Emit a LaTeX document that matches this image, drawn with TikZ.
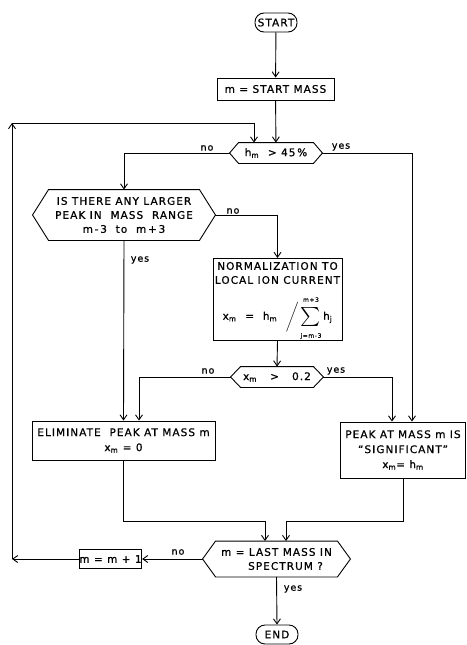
\documentclass[tikz,border=0pt]{standalone}
\usepackage{fontspec}
\usepackage{graphicx}
\setmainfont[LetterSpace=10,FakeBold=0.8]{DejaVu Sans}
\usetikzlibrary{arrows.meta,calc}
\newcommand\hexdraw[2]{\draw[line width=0.9pt] (#1.west) -- ([xshift=#2]#1.north west) -- ([xshift=-#2]#1.north east) -- (#1.east) -- ([xshift=-#2]#1.south east) -- ([xshift=#2]#1.south west) -- cycle;}
\newcommand\sub[1]{\textsubscript{#1}}
\newcommand\limtxt[1]{\fontsize{6}{6}\selectfont #1}
\newcommand\bigsum{\begin{tabular}{@{}c@{}}\limtxt{m+3}\\[1.5pt]\scalebox{1.9}{\(\sum\)}\\[1.5pt]\limtxt{j=m-3}\end{tabular}}
\begin{document}
\begin{tikzpicture}[x=1pt,y=-1pt,line width=0.9pt,
  arr/.style={-{Straight Barb[length=5pt,width=7pt]}},
  box/.style={draw,inner sep=0pt,align=center,font=\fontsize{10.5}{15}\selectfont},
  hexn/.style={inner sep=0pt,align=center,font=\fontsize{10.5}{14}\selectfont},
  term/.style={draw,rounded corners=9pt,inner sep=0pt,font=\fontsize{10.5}{11}\selectfont},
  lbl/.style={font=\fontsize{9.5}{11}\selectfont,inner sep=1pt}]
\useasboundingbox (0,0) rectangle (466,645);

\node[term,minimum width=42pt,minimum height=19pt] (start) at (276,22.5) {START};
\node[box,minimum width=117pt,minimum height=22pt] (smass) at (275.5,89) {m = START MASS};
\node[hexn,minimum width=92pt,minimum height=20pt] (h1) at (276,153) {h\sub{m} \ > 45\,\%};
\node[hexn,minimum width=182pt,minimum height=50pt] (h2) at (124,215) {IS THERE ANY LARGER\\PEAK IN \ MASS \ RANGE\\m\,-\,3 \ to \ m\,+\,3};
\node[box,minimum width=129pt,minimum height=82pt,anchor=north] (norm) at (277.5,258) {};
\node[inner sep=0pt,align=center,font=\fontsize{10.5}{14}\selectfont] (normt) at (277.5,273) {NORMALIZATION TO\\LOCAL ION CURRENT};
\node[inner sep=0pt,font=\fontsize{10.5}{14}\selectfont] (formula) at (277.5,317) {x\sub{m} \ = \ h\sub{m} \ \({\Bigg/}\)\,\bigsum\,h\sub{j}};
\node[hexn,minimum width=92pt,minimum height=20pt] (h3) at (277,377) {x\sub{m} \ \ > \ \ 0.2};
\node[box,minimum width=183pt,minimum height=39pt] (elim) at (123.5,440.5) {ELIMINATE \ PEAK AT MASS m\\x\sub{m} = 0};
\node[box,minimum width=125pt,minimum height=56pt] (peak) at (403,450) {PEAK AT MASS m IS\\``SIGNIFICANT''\\x\sub{m}= h\sub{m}};
\node[hexn,minimum width=147pt,minimum height=35pt] (h4) at (276.5,559) {m = LAST MASS IN\\\hspace*{18pt}SPECTRUM ?};
\node[box,minimum width=57pt,minimum height=19pt] (mplus) at (110.5,559) {m = m + 1};
\node[term,minimum width=42pt,minimum height=19pt] (end) at (277,634.5) {END};

\hexdraw{h1}{9pt}
\hexdraw{h2}{16pt}
\hexdraw{h3}{10pt}
\hexdraw{h4}{13pt}

\coordinate (la) at (12,559);
\coordinate (lb) at (12,123);
\coordinate (lc) at (254,123);

\draw[arr] (start) -- (smass);
\draw[arr] (smass) -- (h1);
\draw[arr] (h1.west) -| (h2.north);
\draw[arr] (h1.east) -| ($(peak.north)+(9,0)$);
\draw[arr] (h2.east) -| (norm.north);
\draw[arr] (h2.south) -- (elim.north);
\draw[arr] (norm.south) -- (h3.north);
\draw[arr] (h3.west) -| ($(elim.north)+(15.5,0)$);
\draw[arr] (h3.east) -| ($(peak.north)+(-11,0)$);
\draw[arr] (elim.south) |- ($(h4.north)+(-11.5,-19.5)$) -- ($(h4.north)+(-11.5,0)$);
\draw[arr] (peak.south) |- ($(h4.north)+(9.5,-19.5)$) -- ($(h4.north)+(9.5,0)$);
\draw[arr] (h4.west) -- (mplus.east);
\draw[arr] (h4.south) -- (end.north);
\draw[arr] (mplus.west) -- (la);
\draw[arr] (la) -- (lb);
\draw[arr] (lb) -- (lc) -- (lc |- h1.north);

\node[lbl] (n1) at (207,148) {no};
\node[lbl] (y1) at (341,147) {yes};
\node[lbl] (n2) at (233,211) {no};
\node[lbl] (y2) at (140,260) {yes};
\node[lbl] (n3) at (208,371) {no};
\node[lbl] (y3) at (336,371) {yes};
\node[lbl] (n4) at (178,552) {no};
\node[lbl] (y4) at (293,589) {yes};
\end{tikzpicture}
\end{document}
